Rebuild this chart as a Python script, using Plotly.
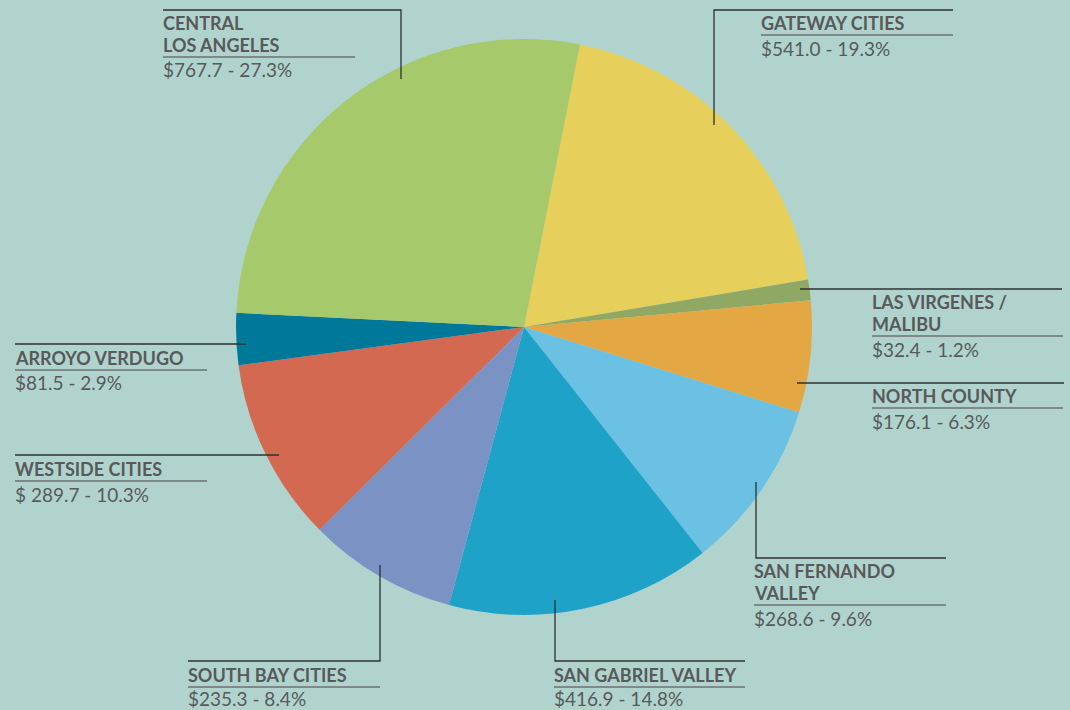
import plotly.graph_objects as go

# ---- data ----
regions = ["GATEWAY CITIES", "LAS VIRGENES /<br>MALIBU", "NORTH COUNTY", "SAN FERNANDO<br>VALLEY",
           "SAN GABRIEL VALLEY", "SOUTH BAY CITIES", "WESTSIDE CITIES", "ARROYO VERDUGO",
           "CENTRAL<br>LOS ANGELES"]
amounts = [541.0, 32.4, 176.1, 268.6, 416.9, 235.3, 289.7, 81.5, 767.7]
amount_text = ["$541.0", "$32.4", "$176.1", "$268.6", "$416.9", "$235.3", "$ 289.7", "$81.5", "$767.7"]
percents = [19.3, 1.2, 6.3, 9.6, 14.8, 8.4, 10.3, 2.9, 27.3]
colors = ["#e6cf5b", "#8fa965", "#e3a843", "#6ac1e4", "#1ea2c8", "#7b92c5", "#d36950", "#00789a", "#a6c96c"]

W, H = 1070, 710
BG = "#b0d4cd"
TXT = "#58595b"

def X(px):
    return px / W

def Y(py):
    return 1 - py / H

# pie geometry (pixels)
cx, cy, r = 524, 327, 288

fig = go.Figure(go.Pie(
    labels=regions, values=amounts, sort=False, direction="clockwise", rotation=11.2,
    marker=dict(colors=colors, line=dict(width=0)), textinfo="none", hoverinfo="label+value",
    domain=dict(x=[X(cx - r), X(cx + r)], y=[Y(cy + r), Y(cy - r)]),
    showlegend=False,
))

# label layout: text x, underline y, underline x-end, connector path points
label_layout = [
    (761, 35, 953, [(714, 125), (714, 10), (953, 10)]),
    (872, 336, 1063, [(800, 289), (1062, 289)]),
    (872, 408, 1063, [(797, 383), (1064, 383)]),
    (754, 605, 946, [(756, 482), (756, 558), (946, 558)]),
    (554, 687, 745, [(555, 600), (555, 661), (745, 661)]),
    (188, 687, 380, [(380, 565), (380, 661), (188, 661)]),
    (15, 481, 207, [(15, 455), (279, 455)]),
    (15, 370, 207, [(15, 344), (246, 344)]),
    (163, 57, 355, [(163, 10), (401, 10), (401, 79)]),
]

shapes = []
annotations = []
for name, amt, pct, (tx, uy, ux2, pts) in zip(regions, amount_text, percents, label_layout):
    path = "M " + " L ".join(f"{X(px)},{Y(py)}" for px, py in pts)
    shapes.append(dict(type="path", path=path, xref="paper", yref="paper",
                       line=dict(color="#2e3132", width=1.3)))
    shapes.append(dict(type="line", xref="paper", yref="paper", x0=X(tx), x1=X(ux2), y0=Y(uy), y1=Y(uy),
                       line=dict(color="#6f7172", width=1.6)))
    lines = name.split("<br>")
    n = len(lines)
    for i, ln in enumerate(lines):
        yc = uy - 12 - 22 * (n - 1 - i)
        annotations.append(dict(text=f"<b>{ln}</b>", x=X(tx - 2), y=Y(yc), xref="paper", yref="paper",
                                xanchor="left", yanchor="middle", showarrow=False,
                                font=dict(family="Lato", size=18, color=TXT)))
    vy = min(uy + 13, 698)
    annotations.append(dict(text=f"{amt} - {pct:.1f}%", x=X(tx - 2), y=Y(vy), xref="paper", yref="paper",
                            xanchor="left", yanchor="middle", showarrow=False,
                            font=dict(family="Lato", size=19, color=TXT)))

fig.update_layout(
    width=W, height=H, margin=dict(l=0, r=0, t=0, b=0),
    paper_bgcolor=BG, plot_bgcolor=BG,
    shapes=shapes, annotations=annotations,
)

fig.write_html("out.html", config={"displayModeBar": False},
               post_script="document.body.style.margin='0';document.body.style.overflow='hidden';")
